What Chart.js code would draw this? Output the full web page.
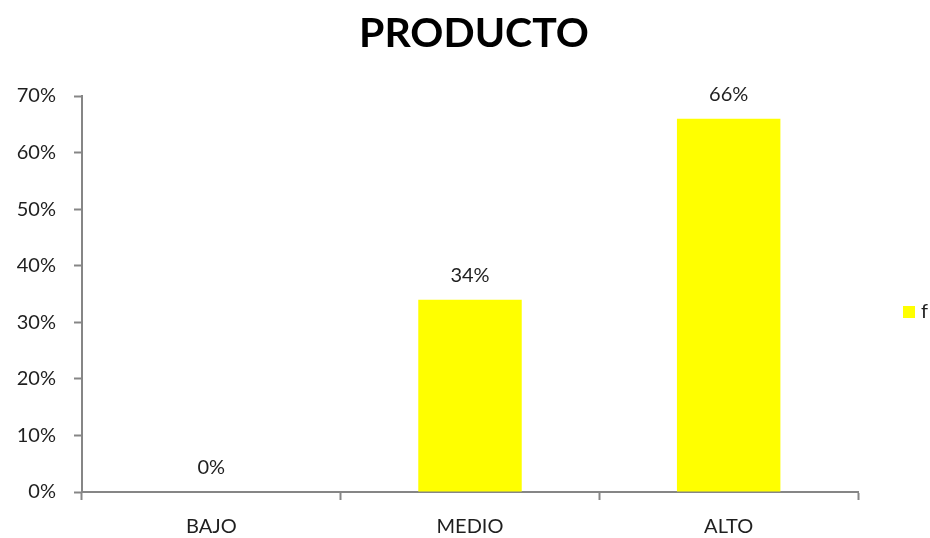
<!DOCTYPE html>
<html>
<head>
<meta charset="utf-8">
<title>PRODUCTO</title>
<script src="https://cdn.jsdelivr.net/npm/chart.js@4.4.0/dist/chart.umd.min.js"></script>
<style>
  html, body { margin: 0; padding: 0; background: #fff; }
  #wrap { width: 930px; height: 538px; }
</style>
</head>
<body>
<div id="wrap"><canvas id="productoChart" width="930" height="538"></canvas></div>
<script>
// datos del gráfico
const categories = ['BAJO', 'MEDIO', 'ALTO'];
const values = [0, 34, 66];
const seriesName = 'f';
const chartTitle = 'PRODUCTO';
const yMax = 70;
const yStep = 10;

const FONT = 'Lato, "Open Sans", sans-serif';
const TEXT = '#1f1f1f';
const AXIS = '#868686';
const BAR = '#ffff00';

// título centrado sobre el área de trazado
const topTitle = {
    id: 'topTitle',
    afterDraw(chart) {
        const ctx = chart.ctx;
        const area = chart.chartArea;
        ctx.save();
        ctx.font = 'bold 41px ' + FONT;
        ctx.fillStyle = '#000';
        ctx.textAlign = 'center';
        ctx.textBaseline = 'middle';
        ctx.fillText(chartTitle, (area.left + area.right) / 2 + 4, 34);
        ctx.restore();
    }
};

// etiquetas de valor encima de cada barra
const valueLabels = {
    id: 'valueLabels',
    afterDatasetsDraw(chart) {
        const ctx = chart.ctx;
        const meta = chart.getDatasetMeta(0);
        ctx.save();
        ctx.font = '20px ' + FONT;
        ctx.fillStyle = TEXT;
        ctx.textAlign = 'center';
        ctx.textBaseline = 'middle';
        meta.data.forEach((bar, i) => {
            ctx.fillText(values[i] + '%', bar.x, bar.y - 24);
        });
        ctx.restore();
    }
};

// leyenda a la derecha, centrada respecto al área del gráfico
const sideLegend = {
    id: 'sideLegend',
    afterDraw(chart) {
        const ctx = chart.ctx;
        const area = chart.chartArea;
        const x = area.right + 45;
        const y = (area.top + area.bottom) / 2 + 18;
        ctx.save();
        ctx.fillStyle = BAR;
        ctx.fillRect(x, y - 6, 12, 12);
        ctx.font = '20px ' + FONT;
        ctx.fillStyle = TEXT;
        ctx.textAlign = 'left';
        ctx.textBaseline = 'middle';
        ctx.fillText(chart.data.datasets[0].label, x + 18, y);
        ctx.restore();
    }
};

const ctx = document.getElementById('productoChart').getContext('2d');
new Chart(ctx, {
    type: 'bar',
    data: {
        labels: categories,
        datasets: [{
            label: seriesName,
            data: values,
            backgroundColor: BAR,
            borderWidth: 0,
            categoryPercentage: 1,
            barPercentage: 0.4
        }]
    },
    options: {
        responsive: false,
        animation: false,
        layout: {
            padding: { top: 96, right: 72, bottom: 0, left: 0 }
        },
        plugins: {
            legend: { display: false },
            tooltip: { enabled: false },
            title: { display: false }
        },
        scales: {
            x: {
                offset: true,
                border: { display: true, color: AXIS, width: 2 },
                grid: {
                    offset: true,
                    drawOnChartArea: false,
                    drawTicks: true,
                    tickLength: 8,
                    tickWidth: 2,
                    tickColor: AXIS
                },
                ticks: {
                    color: TEXT,
                    padding: 15,
                    font: { family: FONT, size: 20 }
                },
                afterFit(scale) { scale.height = 46; }
            },
            y: {
                min: 0,
                max: yMax,
                border: { display: true, color: AXIS, width: 2 },
                grid: {
                    drawOnChartArea: false,
                    drawTicks: true,
                    tickLength: 8,
                    tickWidth: 2,
                    tickColor: AXIS
                },
                ticks: {
                    stepSize: yStep,
                    color: TEXT,
                    padding: 18,
                    font: { family: FONT, size: 20 },
                    callback: v => v + '%'
                },
                afterFit(scale) { scale.width = 82; }
            }
        }
    },
    plugins: [topTitle, valueLabels, sideLegend]
});
</script>
</body>
</html>
